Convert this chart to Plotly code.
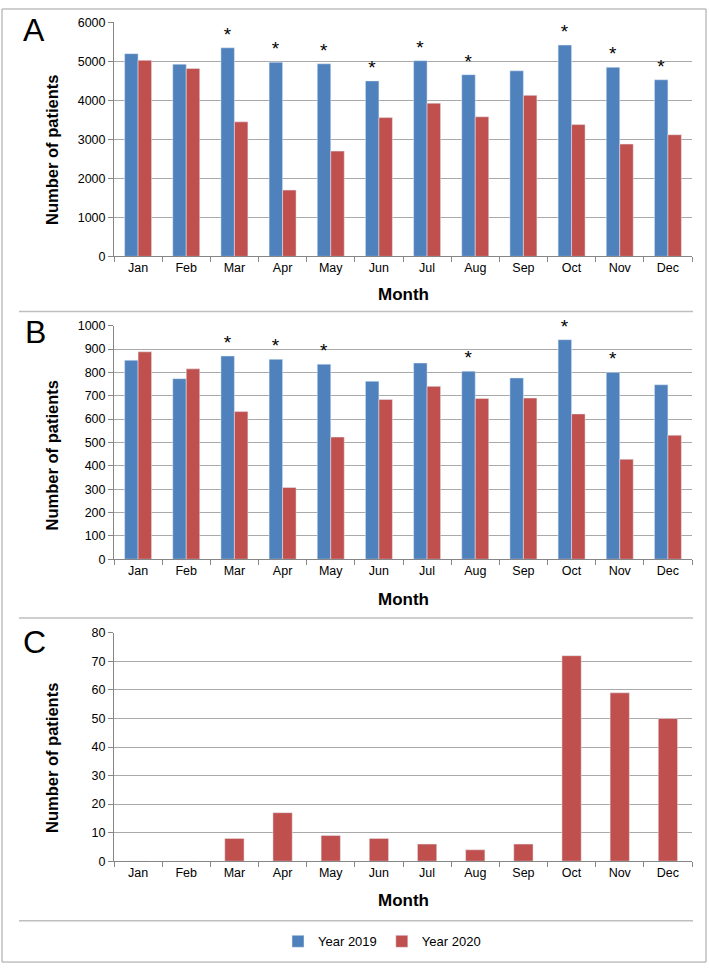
import plotly.graph_objects as go

# ---------------- data ----------------
months = ["Jan", "Feb", "Mar", "Apr", "May", "Jun", "Jul", "Aug", "Sep", "Oct", "Nov", "Dec"]

a_2019 = [5200, 4930, 5350, 4980, 4940, 4500, 5020, 4660, 4760, 5420, 4850, 4530]
a_2020 = [5030, 4820, 3450, 1700, 2700, 3560, 3930, 3580, 4130, 3380, 2880, 3120]
a_sig = [False, False, True, True, True, True, True, True, False, True, True, True]

b_2019 = [852, 773, 870, 856, 835, 762, 840, 805, 776, 940, 800, 747]
b_2020 = [888, 815, 632, 307, 523, 684, 740, 688, 690, 622, 428, 531]
b_sig = [False, False, True, True, True, False, False, True, False, True, True, False]

c_2020 = [0, 0, 8, 17, 9, 8, 6, 4, 6, 72, 59, 50]

panel_letters = ["A", "B", "C"]
y_title = "Number of patients"
x_title = "Month"
series_names = ["Year 2019", "Year 2020"]

# ---------------- style ----------------
W, H = 709, 972
BLUE = "#4F81BD"
RED = "#C0504D"
AXIS = "#868686"
GRID = "#A9A9A9"
SEP = "#BFBFBF"
NARROW = "Liberation Sans Narrow, Arial Narrow, Liberation Sans, sans-serif"
SANS = "Liberation Sans, Arial, sans-serif"


def px_x(x):
    return x / W


def px_y(y):
    return 1 - y / H


x_dom = [px_x(114), px_x(692)]
panels = [  # top, bottom pixel rows of plot area
    (15.7, 253.0),
    (323.3, 560.3),
    (635.0, 866.7),
]


def stars(sig):
    return ["*" if s else "" for s in sig]


fig = go.Figure()

bar_common = dict(textposition="outside", cliponaxis=False, constraintext="none",
                  textfont=dict(size=19, color="black", family=SANS))

fig.add_trace(go.Bar(x=months, y=a_2019, name=series_names[0], marker_color=BLUE,
                     text=stars(a_sig), xaxis="x", yaxis="y", legendgroup="2019", **bar_common))
fig.add_trace(go.Bar(x=months, y=a_2020, name=series_names[1], marker_color=RED,
                     xaxis="x", yaxis="y", legendgroup="2020"))
fig.add_trace(go.Bar(x=months, y=b_2019, name=series_names[0], marker_color=BLUE,
                     text=stars(b_sig), xaxis="x2", yaxis="y2", legendgroup="2019",
                     showlegend=False, **bar_common))
fig.add_trace(go.Bar(x=months, y=b_2020, name=series_names[1], marker_color=RED,
                     xaxis="x2", yaxis="y2", legendgroup="2020", showlegend=False))
fig.add_trace(go.Bar(x=months, y=c_2020, name=series_names[1], marker_color=RED,
                     xaxis="x3", yaxis="y3", legendgroup="2020", showlegend=False, width=0.4))

for t in fig.data:
    t.hoverinfo = "x+y+name"

ranges = [(6000, 1000), (1000, 100), (80, 10)]

layout = dict(
    width=W, height=H, margin=dict(l=0, r=0, t=0, b=0), autosize=False,
    paper_bgcolor="white", plot_bgcolor="white",
    barmode="group", bargap=0.44, bargroupgap=0,
    font=dict(family=NARROW, size=12, color="#000000"),
    showlegend=True,
    legend=dict(orientation="h", x=px_x(382), xanchor="center", y=px_y(948), yanchor="middle",
                font=dict(family=NARROW, size=13, color="#000000"),
                itemwidth=30, bgcolor="rgba(0,0,0,0)", tracegroupgap=0),
)

annotations = []
shapes = []
for i, ((top, bot), (ymax, dt)) in enumerate(zip(panels, ranges)):
    sfx = "" if i == 0 else str(i + 1)
    layout["xaxis" + sfx] = dict(
        domain=x_dom, anchor="y" + sfx, type="category",
        showline=True, linecolor=AXIS, linewidth=1,
        ticks="outside", tickson="boundaries", ticklen=5, tickcolor=AXIS,
        showgrid=False, tickfont=dict(family=NARROW, size=12.5, color="#000000"),
        fixedrange=True,
    )
    layout["yaxis" + sfx] = dict(
        domain=[px_y(bot), px_y(top)], anchor="x" + sfx,
        range=[0, ymax], dtick=dt, tick0=0,
        showgrid=True, gridcolor=GRID, gridwidth=1,
        showline=True, linecolor=AXIS, linewidth=1,
        ticks="outside", ticklen=5, tickcolor=AXIS, zeroline=False,
        tickfont=dict(family=NARROW, size=12.5, color="#000000"),
        fixedrange=True,
    )

letter_pos = [(34, 23), (35, 330), (34, 644)]
ytitle_y = [145, 455, 762]
month_y = [291.7, 601, 906.7]
sep_y = [309, 620, 927]

for i in range(3):
    lx, ly = letter_pos[i]
    annotations.append(dict(text=panel_letters[i], x=px_x(lx), y=px_y(ly), xref="paper", yref="paper",
                            showarrow=False, xanchor="center", yanchor="middle",
                            font=dict(family=SANS, size=32, color="#000000")))
    annotations.append(dict(text="<b>" + y_title + "</b>", x=px_x(52), y=px_y(ytitle_y[i]),
                            xref="paper", yref="paper", showarrow=False, textangle=-90,
                            xanchor="center", yanchor="middle",
                            font=dict(family=SANS, size=16.5, color="#000000")))
    annotations.append(dict(text="<b>" + x_title + "</b>", x=px_x(403), y=px_y(month_y[i]),
                            xref="paper", yref="paper", showarrow=False,
                            xanchor="center", yanchor="middle",
                            font=dict(family=SANS, size=17, color="#000000")))
    shapes.append(dict(type="line", xref="paper", yref="paper",
                       x0=px_x(19), x1=px_x(693), y0=px_y(sep_y[i]), y1=px_y(sep_y[i]),
                       line=dict(color=SEP, width=1.5)))

shapes.append(dict(type="rect", xref="paper", yref="paper",
                   x0=px_x(2), x1=px_x(706), y0=px_y(969), y1=px_y(2),
                   line=dict(color="#A0A0A0", width=1)))

layout["annotations"] = annotations
layout["shapes"] = shapes
fig.update_layout(**layout)

fig.write_html("out.html", config={"displayModeBar": False},
               post_script="document.body.style.margin='0';")
